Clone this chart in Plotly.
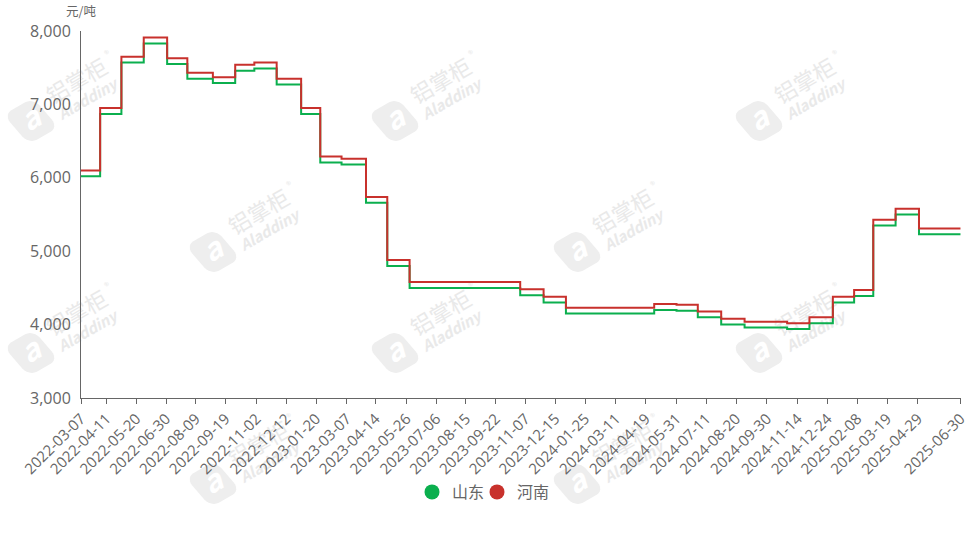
import math
import pandas as pd
import plotly.graph_objects as go

# ---- data -------------------------------------------------------------
change_dates = [
    "2022-03-07", "2022-03-31", "2022-04-28", "2022-05-31", "2022-07-01",
    "2022-07-28", "2022-08-31", "2022-09-30", "2022-10-31", "2022-11-29",
    "2022-12-30", "2023-01-31", "2023-02-28", "2023-03-31", "2023-04-28",
    "2023-05-31", "2023-10-31", "2023-11-30", "2023-12-29", "2024-04-30",
    "2024-05-31", "2024-07-01", "2024-07-31", "2024-08-30", "2024-10-31",
    "2024-11-29", "2024-12-31", "2025-02-05", "2025-02-28", "2025-03-31",
    "2025-04-30", "2025-06-30",
]
shandong = [
    6020, 6870, 7570, 7830, 7550, 7350, 7290, 7460, 7490, 7270,
    6870, 6210, 6180, 5660, 4800, 4500, 4400, 4300, 4150, 4200,
    4190, 4100, 4000, 3960, 3940, 4020, 4300, 4390, 5350, 5500,
    5230, 5230,
]
henan = [
    6100, 6950, 7650, 7910, 7630, 7430, 7370, 7540, 7570, 7350,
    6950, 6290, 6260, 5740, 4880, 4580, 4480, 4380, 4230, 4280,
    4270, 4180, 4080, 4040, 4020, 4100, 4380, 4470, 5430, 5580,
    5310, 5310,
]
tick_labels = [
    "2022-03-07", "2022-04-11", "2022-05-20", "2022-06-30", "2022-08-09",
    "2022-09-19", "2022-11-02", "2022-12-12", "2023-01-20", "2023-03-07",
    "2023-04-14", "2023-05-26", "2023-07-06", "2023-08-15", "2023-09-22",
    "2023-11-07", "2023-12-15", "2024-01-25", "2024-03-11", "2024-04-19",
    "2024-05-31", "2024-07-11", "2024-08-20", "2024-09-30", "2024-11-14",
    "2024-12-24", "2025-02-08", "2025-03-19", "2025-04-29", "2025-06-30",
]
y_ticks = [3000, 4000, 5000, 6000, 7000, 8000]

# Chinese working-day calendar (category axis of the original chart)
holiday_ranges = [
    ("2022-04-04", "2022-04-05"), ("2022-05-02", "2022-05-04"), ("2022-06-03", "2022-06-03"),
    ("2022-09-12", "2022-09-12"), ("2022-10-03", "2022-10-07"), ("2023-01-02", "2023-01-02"),
    ("2023-01-23", "2023-01-27"), ("2023-04-05", "2023-04-05"), ("2023-05-01", "2023-05-03"),
    ("2023-06-22", "2023-06-23"), ("2023-09-29", "2023-10-06"), ("2024-01-01", "2024-01-01"),
    ("2024-02-12", "2024-02-16"), ("2024-04-04", "2024-04-05"), ("2024-05-01", "2024-05-03"),
    ("2024-06-10", "2024-06-10"), ("2024-09-16", "2024-09-17"), ("2024-10-01", "2024-10-07"),
    ("2025-01-01", "2025-01-01"), ("2025-01-28", "2025-02-04"), ("2025-04-04", "2025-04-04"),
    ("2025-05-01", "2025-05-05"), ("2025-06-02", "2025-06-02"),
]
makeup_days = [
    "2022-04-02", "2022-04-24", "2022-05-07", "2022-10-08", "2022-10-09",
    "2023-01-28", "2023-01-29", "2023-04-23", "2023-05-06", "2023-06-25",
    "2023-10-07", "2023-10-08", "2024-02-04", "2024-02-18", "2024-04-07",
    "2024-04-28", "2024-05-11", "2024-09-14", "2024-09-29", "2024-10-12",
    "2025-01-26", "2025-02-08", "2025-04-27",
]

# ---- build category positions ----------------------------------------
days = pd.bdate_range(tick_labels[0], tick_labels[-1])
off = pd.DatetimeIndex([])
for a, b in holiday_ranges:
    off = off.union(pd.date_range(a, b))
days = days.difference(off).union(pd.to_datetime(makeup_days)).sort_values()
n_days = len(days)


def pos(d):
    return int(days.searchsorted(pd.Timestamp(d)))


x_idx = [pos(d) for d in change_dates]
tick_pos = [pos(d) for d in tick_labels]

# ---- layout constants -------------------------------------------------
W, H = 969, 534
ML, MR, MT, MB = 81, 8, 31, 136
PW, PH = W - ML - MR, H - MT - MB

GREEN = "#0BAF4E"
RED = "#C8312C"
GRAY = "#666666"
WM_FILL = "#eeeeee"
WM_TEXT = "#e9e9e9"
FONT = "Open Sans, Noto Sans CJK SC, sans-serif"
CJK = "Noto Sans CJK SC, sans-serif"


def px2paper(px, py):
    return (px - ML) / PW, (MT + PH - py) / PH


# watermark ("铝掌柜 Aladdiny") logo centres in page pixels (inner ones only)
wm_centres = [(31, 121), (395, 121), (759, 121), (31, 353), (395, 353), (759, 353),
              (213, 252), (577, 252), (213, 484), (577, 484)]
ANG = math.radians(30)

shapes = []


def label_shape(cx, cy, text, size, weight="normal", style="normal", color=WM_TEXT):
    x, y = px2paper(cx, cy)
    shapes.append(dict(type="rect", xref="paper", yref="paper", layer="below",
                       x0=x - 0.001, x1=x + 0.001, y0=y - 0.001, y1=y + 0.001,
                       line=dict(width=0), fillcolor="rgba(0,0,0,0)",
                       label=dict(text=text, textangle=-30, textposition="middle center",
                                  font=dict(size=size, color=color, family=CJK,
                                            weight=weight, style=style))))


def logo_shape(cx, cy, side=34, r=9):
    pts = []
    h = side / 2 - r
    for (qx, qy, a0) in [(h, -h, -90), (h, h, 0), (-h, h, 90), (-h, -h, 180)]:
        for k in range(7):
            a = math.radians(a0 + k * 15)
            pts.append((qx + r * math.cos(a), qy + r * math.sin(a)))
    path = []
    for i, (lx, ly) in enumerate(pts):
        rx = lx * math.cos(ANG) + ly * math.sin(ANG) + 0.25 * ly
        ry = -lx * math.sin(ANG) + ly * math.cos(ANG)
        px_, py_ = px2paper(cx + rx, cy + ry)
        path.append(("M" if i == 0 else "L") + f"{px_:.5f},{py_:.5f}")
    shapes.append(dict(type="path", xref="paper", yref="paper", layer="below",
                       path=" ".join(path) + " Z", fillcolor=WM_FILL, line=dict(width=0)))
    label_shape(cx + 1, cy, "a", 30, weight="bold", style="italic", color="white")


def watermark(lx, ly):
    logo_shape(lx, ly)
    label_shape(lx + 47, ly - 38, "铝掌柜", 22)
    label_shape(lx + 57, ly - 21, "Aladdiny", 15, weight="bold", style="italic")
    label_shape(lx + 77, ly - 66, "®", 10)


for wx, wy in wm_centres:
    watermark(wx, wy)

fig = go.Figure()
fig.add_trace(go.Scatter(x=x_idx, y=shandong, mode="lines", line_shape="hv",
                         line=dict(color=GREEN, width=2), name="山东", showlegend=False))
fig.add_trace(go.Scatter(x=x_idx, y=henan, mode="lines", line_shape="hv",
                         line=dict(color=RED, width=2), name="河南", showlegend=False))
# legend entries (circle markers like the original), one legend box each
fig.add_trace(go.Scatter(x=[None], y=[None], mode="markers", name="山东", legend="legend",
                         marker=dict(color=GREEN, size=15, symbol="circle")))
fig.add_trace(go.Scatter(x=[None], y=[None], mode="markers", name="河南", legend="legend2",
                         marker=dict(color=RED, size=15, symbol="circle")))

leg_common = dict(orientation="h", xanchor="left", y=(MT + PH - 492) / PH, yanchor="middle",
                  font=dict(size=16, color=GRAY, family=CJK), bgcolor="rgba(0,0,0,0)",
                  itemsizing="trace", itemwidth=30)

fig.update_layout(
    width=W, height=H,
    margin=dict(l=ML, r=MR, t=MT, b=MB),
    plot_bgcolor="rgba(0,0,0,0)", paper_bgcolor="white",
    font=dict(family=FONT, color=GRAY, size=15),
    showlegend=True,
    legend=dict(x=(412 - ML) / PW, **leg_common),
    legend2=dict(x=(477 - ML) / PW, **leg_common),
    xaxis=dict(range=[0, n_days - 0.5], tickmode="array", tickvals=tick_pos,
               ticktext=tick_labels, tickangle=-45, showgrid=False, zeroline=False,
               showline=True, linecolor=GRAY, linewidth=1, ticks="outside",
               ticklen=5, tickcolor=GRAY, automargin=False,
               tickfont=dict(size=15, color=GRAY)),
    yaxis=dict(range=[3000, 8000], tickmode="array", tickvals=y_ticks,
               tickformat=",", showgrid=False, zeroline=False, showline=True,
               linecolor=GRAY, linewidth=1, ticks="", ticklabelstandoff=6,
               automargin=False, tickfont=dict(size=16, color=GRAY)),
    shapes=shapes,
    annotations=[dict(text="元/吨", xref="paper", yref="paper", x=0, y=1,
                      xanchor="center", yanchor="bottom", yshift=10, borderpad=0,
                      showarrow=False, font=dict(size=12.5, color=GRAY, family=CJK))],
)

fig.write_html("out.html", config={"displayModeBar": False},
               post_script="document.body.style.margin='0px';")
